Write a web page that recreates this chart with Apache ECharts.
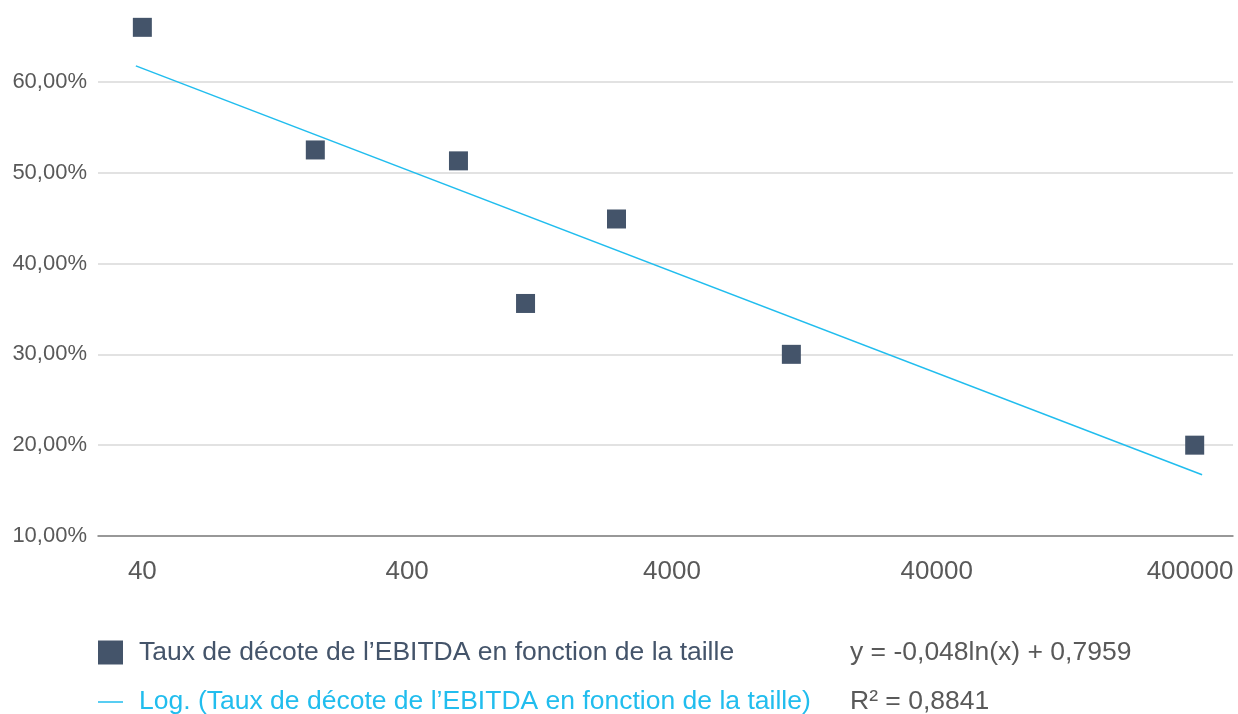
<!DOCTYPE html>
<html><head><meta charset="utf-8">
<script src="https://cdn.jsdelivr.net/npm/echarts@6/dist/echarts.min.js"></script>
<style>html,body{margin:0;padding:0;background:#fff;}#c{width:1238px;height:714px;}</style>
</head><body><div id="c"></div>
<script>
// Data
const sizes = [40, 180, 625, 1120, 2470, 11300, 377000];
const rates = [0.66, 0.525, 0.513, 0.356, 0.449, 0.30, 0.20];
const trendSizes = [37.8, 402000];
const trendRates = [0.6176, 0.1674];
const xTickLabels = [40, 400, 4000, 40000, 400000];
const seriesName = "Taux de décote de l’EBITDA en fonction de la taille";
const trendName = "Log. (Taux de décote de l’EBITDA en fonction de la taille)";
const equationText = "y = -0,048ln(x) + 0,7959";
const r2Text = "R² = 0,8841";

const FONT = "'Liberation Sans', Arial, Helvetica, sans-serif";
const LEG_FS = 26.5;
const chart = echarts.init(document.getElementById('c'), null, {renderer: 'canvas'});
chart.setOption({
  animation: false,
  textStyle: {fontFamily: FONT},
  grid: {left: 98, right: 5, top: -9, bottom: 178, containLabel: false, outerBoundsMode: 'none'},
  xAxis: {
    type: 'log',
    logBase: 10,
    min: 27.2,
    max: 526000,
    axisLine: {show: true, lineStyle: {color: '#808080', width: 1.5}},
    axisTick: {show: false},
    splitLine: {show: false},
    minorTick: {show: false},
    axisLabel: {
      customValues: xTickLabels,
      color: '#595959', fontSize: 26, fontFamily: FONT, margin: 23,
      formatter: v => {
        const s = String(Math.round(v));
        return Math.round(v) === xTickLabels[xTickLabels.length - 1] ? '{last|' + s + '}' : s;
      },
      rich: {last: {color: '#595959', fontSize: 26, fontFamily: FONT, padding: [0, 23, 0, 0]}}
    }
  },
  yAxis: {
    type: 'value',
    min: 0.1, max: 0.7, interval: 0.1,
    axisLine: {show: false},
    axisTick: {show: false},
    splitLine: {show: true, lineStyle: {color: '#d9d9d9', width: 1.5}},
    axisLabel: {
      color: '#595959', fontSize: 22, fontFamily: FONT, margin: 11,
      formatter: v => (v * 100).toFixed(2).replace('.', ',') + '%'
    }
  },
  legend: {
    orient: 'vertical', left: 98, top: 639, height: 200, padding: 0,
    itemWidth: 25, itemHeight: 24, itemGap: 22.5,
    textStyle: {fontSize: LEG_FS, fontFamily: FONT, color: '#44546A', padding: [0, 0, 0, 11]},
    data: [
      {name: seriesName, icon: 'rect', textStyle: {color: '#44546A'}},
      {name: trendName, icon: 'path://M0,0 M25,24 M0,11.25 L25,11.25 L25,12.75 L0,12.75 Z', textStyle: {color: '#21BDEE'}}
    ]
  },
  graphic: [
    {type: 'text', left: 850, top: 639, style: {text: equationText, fill: '#595959', fontSize: LEG_FS, fontFamily: FONT}},
    {type: 'text', left: 850, top: 688, style: {text: r2Text, fill: '#595959', fontSize: LEG_FS, fontFamily: FONT}}
  ],
  series: [
    {
      name: trendName, type: 'line', symbol: 'none', z: 2,
      lineStyle: {color: '#21BDEE', width: 1.5}, itemStyle: {color: '#21BDEE'},
      data: trendSizes.map((s, i) => [s, trendRates[i]])
    },
    {
      name: seriesName, type: 'scatter', symbol: 'rect', symbolSize: 19, z: 3,
      itemStyle: {color: '#44546A', opacity: 1},
      data: sizes.map((s, i) => [s, rates[i]])
    }
  ]
});
</script></body></html>
